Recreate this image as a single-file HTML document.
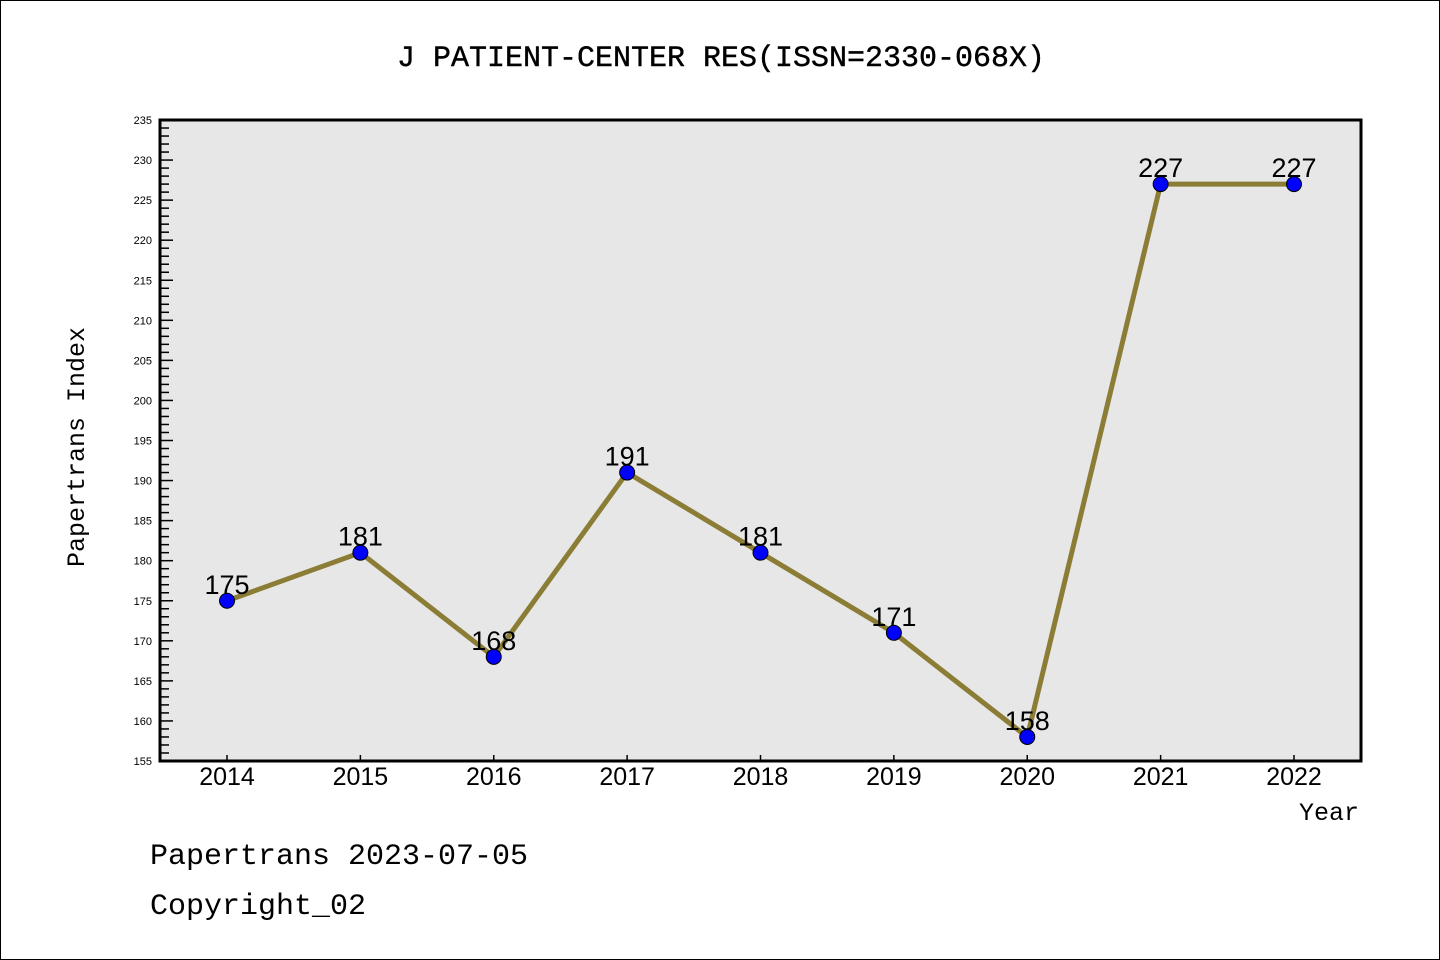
<!DOCTYPE html>
<html><head><meta charset="utf-8"><style>
body{margin:0;background:#fff}
svg{display:block;font-family:"Liberation Sans","WenQuanYi Zen Hei",sans-serif}
.mono{font-family:"Liberation Mono","WenQuanYi Zen Hei",monospace}
</style></head><body>
<svg id="chart" width="1440" height="960">
<rect x="0.5" y="0.5" width="1439" height="959" fill="#fff" stroke="#000"/>
<text class="mono" x="721" y="66" text-anchor="middle" font-size="30" stroke="#000" stroke-width="0.4">J PATIENT-CENTER RES(ISSN=2330-068X)</text>
<rect x="160" y="120" width="1201" height="641" fill="#e7e7e7"/>
<g id="yaxis"></g>
<g id="xaxis"></g>
<g id="series"></g>
<rect x="160" y="120" width="1201" height="641" fill="none" stroke="#000" stroke-width="3"/>
<text class="mono" x="84" y="447" font-size="25" text-anchor="middle" transform="rotate(-90 84 447)">Papertrans Index</text>
<text class="mono" x="1359" y="820" font-size="25" text-anchor="end">Year</text>
<text class="mono" x="150" y="864" font-size="30">Papertrans 2023-07-05</text>
<text class="mono" x="150" y="914" font-size="30">Copyright_02</text>
</svg>
<script>
const years=[2014,2015,2016,2017,2018,2019,2020,2021,2022];
const values=[175,181,168,191,181,171,158,227,227];
const yTicks=[155,160,165,170,175,180,185,190,195,200,205,210,215,220,225,230,235];
const NS="http://www.w3.org/2000/svg";
const yMin=155,yMax=235,y0=761,y1=120;
function ys(v){return y0-(v-yMin)/(yMax-yMin)*(y0-y1);}
function xs(i){return 227+i*(1294-227)/(years.length-1);}
function mk(tag,attrs,parent){const e=document.createElementNS(NS,tag);for(const k in attrs)e.setAttribute(k,attrs[k]);parent.appendChild(e);return e;}
const ya=document.getElementById('yaxis');
for(let v=yMin;v<=yMax;v++){
  const major=v%5===0;
  const t=mk('line',{x1:160,x2:160+(major?13:9),y1:ys(v),y2:ys(v),stroke:'#000','stroke-width':1.5},ya);
  
  
}
yTicks.forEach(v=>{
  const t=mk('text',{x:152,y:ys(v)+4,'font-size':11,'text-anchor':'end'},ya);
  t.textContent=v;
  
  
});
const xa=document.getElementById('xaxis');
years.forEach((yr,i)=>{
  const l=mk('line',{x1:xs(i),x2:xs(i),y1:761,y2:755,stroke:'#000','stroke-width':1.5},xa);
  
  
  const t=mk('text',{x:xs(i),y:785,'font-size':25,'text-anchor':'middle'},xa);
  t.textContent=yr;
  
  
});
const s=document.getElementById('series');
const pl=mk('polyline',{points:values.map((v,i)=>xs(i)+','+ys(v)).join(' '),fill:'none',stroke:'#8b7d35','stroke-width':5,'stroke-linejoin':'round'},s);


values.forEach((v,i)=>{
  const c=mk('circle',{cx:xs(i),cy:ys(v),r:7.5,fill:'#0000ff',stroke:'#000','stroke-width':1},s);
  
  
  const t=mk('text',{x:xs(i),y:ys(v)-7,'font-size':27,'text-anchor':'middle'},s);
  t.textContent=v;
  
  
});
</script>
</body></html>
